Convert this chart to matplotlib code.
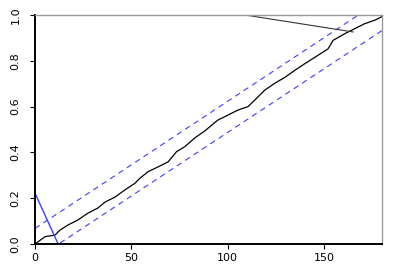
import matplotlib
matplotlib.use("Agg")
import matplotlib.pyplot as plt
import numpy as np

# cumulative periodogram
freq = [0, 5.2, 10.4, 13.0, 17.1, 22.3, 27.5, 32.6, 36.3, 41.5, 46.6, 51.8,
        54.4, 58.7, 63.9, 69.1, 73.4, 77.7, 82.9, 88.1, 94.8, 100.1, 105.3,
        110.5, 114.9, 119.2, 124.4, 129.5, 134.7, 139.9, 146.8, 152.0, 154.6,
        160.6, 165.8, 171.0, 176.2, 179.6, 180]
cum = [0, 0.032, 0.039, 0.061, 0.083, 0.105, 0.135, 0.157, 0.183, 0.205,
       0.236, 0.265, 0.287, 0.316, 0.337, 0.359, 0.403, 0.425, 0.463, 0.494,
       0.541, 0.563, 0.585, 0.600, 0.636, 0.672, 0.702, 0.727, 0.758, 0.787,
       0.824, 0.852, 0.889, 0.918, 0.940, 0.962, 0.977, 0.991, 1.0]

# stray segment near the top
stray_x = [109, 165]
stray_y = [1.0, 0.926]

# blue solid segment at bottom left
blue_x = [0, 12]
blue_y = [0.222, 0]

band = 0.068
n_max = 180

fig = plt.figure(figsize=(3.95, 2.79), dpi=100)
ax = fig.add_axes([35 / 395, 35 / 279, 347 / 395, 229 / 279])

xs = np.array([0, n_max])
ax.plot(xs, xs / n_max + band, color="#3d3dff", lw=0.8, dashes=(5, 4))
ax.plot(xs, xs / n_max - band, color="#3d3dff", lw=0.8, dashes=(5, 4))
ax.plot(freq, cum, color="black", lw=0.9)
ax.plot(stray_x, stray_y, color="#333333", lw=0.8)
ax.plot(blue_x, blue_y, color="#3d3dff", lw=1.0)

ax.set_xlim(0, n_max)
ax.set_ylim(0, 1)
ax.set_xticks([0, 50, 100, 150])
ax.set_yticks([0, 0.2, 0.4, 0.6, 0.8, 1.0])
ax.set_yticklabels(["0.0", "0.2", "0.4", "0.6", "0.8", "1.0"], rotation=90,
                   va="center")
ax.tick_params(labelsize=8, length=3.5, width=0.8)
ax.tick_params(axis="y", pad=7)
ax.tick_params(axis="x", pad=3)

for s in ["left", "bottom"]:
    ax.spines[s].set_linewidth(1.4)
    ax.spines[s].set_color("black")
for s in ["top", "right"]:
    ax.spines[s].set_linewidth(1.0)
    ax.spines[s].set_color("#999999")

fig.savefig("out.png", dpi=100)
